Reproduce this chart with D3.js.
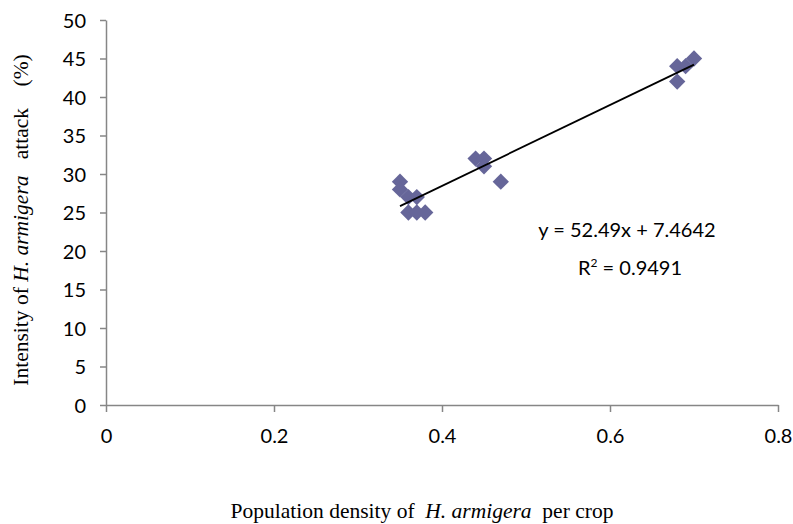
<!DOCTYPE html>
<html lang="en">
<head>
<meta charset="UTF-8">
<title>H. armigera attack vs population density</title>
<script src="https://d3js.org/d3.v7.min.js"></script>
<style>
    body { margin: 0; background: #fff; }
    .tick text { font-family: Lato, "Open Sans", sans-serif; font-size: 20px; fill: #000; }
    .axis path, .axis line { stroke: #868686; stroke-width: 1.5; }
    .title { font-family: "Liberation Serif", "DejaVu Serif", serif; font-size: 21.5px; fill: #000; white-space: pre; }
    .eq { font-family: Lato, "Open Sans", sans-serif; font-size: 20px; fill: #000; white-space: pre; }
</style>
</head>
<body>
<svg id="chart" width="793" height="524"></svg>
<script>
// data
const density = [0.35, 0.35, 0.36, 0.37, 0.36, 0.37, 0.38, 0.44, 0.45, 0.45, 0.47, 0.68, 0.69, 0.70, 0.68];
const attack  = [29,   28,   27,   27,   25,   25,   25,   32,   32,   31,   29,   44,   44,   45,   42];
const xTicks = [0, 0.2, 0.4, 0.6, 0.8];
const yTicks = [0, 5, 10, 15, 20, 25, 30, 35, 40, 45, 50];
const trendSlope = 52.49, trendIntercept = 7.4642;
const eqLabel = "y = 52.49x + 7.4642";
const r2Value = "0.9491";

let svg = d3.select("#chart");

let x = d3.scaleLinear().domain([0, 0.8]).range([106, 778]);
let y = d3.scaleLinear().domain([0, 50]).range([405, 20]);

// y axis
svg.append("g")
    .attr("class", "axis")
    .attr("transform", "translate(106,0)")
    .call(d3.axisLeft(y).tickValues(yTicks).tickSize(6).tickSizeOuter(0).tickPadding(14))
    .call(g => g.selectAll(".tick text").attr("dy", "0.35em"));

// x axis
svg.append("g")
    .attr("class", "axis")
    .attr("transform", "translate(0,405)")
    .call(d3.axisBottom(x).tickValues(xTicks).tickSize(7).tickSizeOuter(0).tickPadding(17).tickFormat(d => d === 0 ? "0" : d3.format(".1f")(d)));

// points
let pts = density.map((d, i) => ({ x: d, y: attack[i] }));
let diamond = d3.symbol().type(d3.symbolDiamond2).size(170);

svg.append("g")
    .selectAll("path")
    .data(pts)
    .enter()
    .append("path")
    .attr("d", diamond)
    .attr("transform", d => `translate(${x(d.x)},${y(d.y)})`)
    .attr("fill", "#666699");

// trend line
let x0 = d3.min(density), x1 = d3.max(density);
svg.append("line")
    .attr("x1", x(x0)).attr("y1", y(trendSlope * x0 + trendIntercept))
    .attr("x2", x(x1)).attr("y2", y(trendSlope * x1 + trendIntercept))
    .attr("stroke", "#000")
    .attr("stroke-width", 1.8);

// equation
svg.append("text")
    .attr("class", "eq")
    .attr("x", 627).attr("y", 237)
    .attr("text-anchor", "middle")
    .text(eqLabel);

let r2 = svg.append("text")
    .attr("class", "eq")
    .attr("x", 630).attr("y", 275)
    .attr("text-anchor", "middle");
r2.append("tspan").text("R");
r2.append("tspan").attr("dy", -8).attr("font-size", "12px").text("2");
r2.append("tspan").attr("dy", 8).text(" = " + r2Value);

// y title
let yt = svg.append("text")
    .attr("class", "title")
    .attr("transform", "translate(28,220) rotate(-90)")
    .attr("text-anchor", "middle");
yt.append("tspan").text("Intensity of ");
yt.append("tspan").attr("font-style", "italic").text("H. armigera");
yt.append("tspan").text("   attack    (%)");

// x title
let xt = svg.append("text")
    .attr("class", "title")
    .attr("x", 422).attr("y", 518)
    .attr("text-anchor", "middle");
xt.append("tspan").text("Population density of  ");
xt.append("tspan").attr("font-style", "italic").text("H. armigera");
xt.append("tspan").text("  per crop");
</script>
</body>
</html>
